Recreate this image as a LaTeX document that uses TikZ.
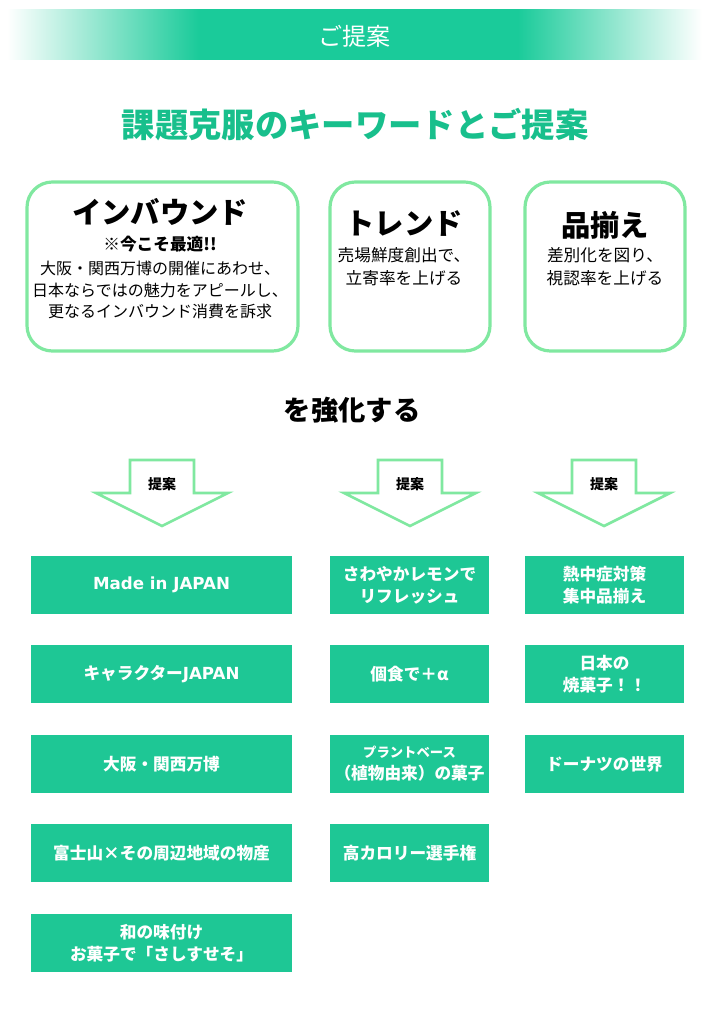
\documentclass[tikz,border=0pt]{standalone}
\usepackage{fontspec}
\setmainfont{Noto Sans CJK JP}
\newfontfamily\latinb{DejaVu Sans}
\definecolor{hgreen}{HTML}{1ACB9A}
\definecolor{tgreen}{HTML}{18BF8C}
\definecolor{bgreen}{HTML}{1EC795}
\definecolor{lgreen}{HTML}{80E8A0}
\pgfdeclarehorizontalshading{hdrshade}{100bp}{color(0bp)=(white); color(25.5bp)=(white); color(39bp)=(hgreen); color(61.5bp)=(hgreen); color(74.5bp)=(white); color(100bp)=(white)}
\begin{document}
\begin{tikzpicture}[x=0.75pt,y=-0.75pt,
  keybox/.style={draw=lgreen,line width=2.4pt,rounded corners=19pt},
  propbox/.style={fill=bgreen,draw=none},
  proptext/.style={text=white,font=\bfseries\fontsize{12.5}{16.5}\selectfont,align=center},
  keytitle/.style={font=\bfseries\fontsize{22}{26}\selectfont},
  keytext/.style={font=\fontsize{12.5}{16.5}\selectfont,align=center},
  arrowshape/.style={draw=lgreen,line width=2pt,fill=white,line join=miter},
  arrowtext/.style={font=\bfseries\fontsize{10.5}{12}\selectfont}]
\useasboundingbox (0,0) rectangle (709,1024);
\fill[white] (0,0) rectangle (709,1024);
% header bar
\shade[shading=hdrshade] (0,10) rectangle (709,60);
\node[text=white,font=\fontsize{18}{20}\selectfont] (hdr) at (354,36) {ご提案};
% title
\node[text=tgreen,font=\bfseries\fontsize{25}{28}\selectfont] (title) at (355,125) {課題克服のキーワードとご提案};
% keyword boxes
\draw[keybox] (27,182) rectangle (298,351);
\draw[keybox] (330,182) rectangle (490,351);
\draw[keybox] (525,182) rectangle (685,351);
\node[keytitle] (k1t) at (160,212) {インバウンド};
\node[font=\bfseries\fontsize{12.5}{15}\selectfont] (k1s) at (160,244) {※今こそ最適!!};
\node[keytext,font=\fontsize{12}{16.3}\selectfont] (k1b) at (160,290) {大阪・関西万博の開催にあわせ、\\日本ならではの魅力をアピールし、\\更なるインバウンド消費を訴求};
\node[keytitle] (k2t) at (404,224) {トレンド};
\node[keytext,font=\fontsize{12.5}{17}\selectfont] (k2b) at (404,267) {売場鮮度創出で、\\立寄率を上げる};
\node[keytitle] (k3t) at (605,225) {品揃え};
\node[keytext,font=\fontsize{12.5}{17}\selectfont] (k3b) at (605,267) {差別化を図り、\\視認率を上げる};
% strengthen
\node[font=\bfseries\fontsize{20.5}{24}\selectfont] (kyouka) at (352,410) {を強化する};
% arrows
\foreach \cx/\nm in {162/a1,410/a2,604/a3}{
  \draw[arrowshape] (\cx-32,460) -- (\cx+32,460) -- (\cx+32,493) -- (\cx+66,493)
     -- (\cx,526) -- (\cx-66,493) -- (\cx-32,493) -- cycle;
  \node[arrowtext] (\nm) at (\cx,484) {提案};
}
% column 1
\foreach \y in {556,645,735,824,914}{
  \fill[propbox] (31,\y) rectangle (292,\y+58);
}
\node[proptext] (t1a) at (161.5,585) {\latinb Made in JAPAN};
\node[proptext] (t1b) at (161.5,674) {キャラクター{\latinb JAPAN}};
\node[proptext] (t1c) at (161.5,764) {大阪・関西万博};
\node[proptext] (t1d) at (161.5,853) {富士山×その周辺地域の物産};
\node[proptext] (t1e) at (161.5,943) {和の味付け\\お菓子で「さしすせそ」};
% column 2
\foreach \y in {556,645,735,824}{
  \fill[propbox] (330,\y) rectangle (489,\y+58);
}
\node[proptext] (t2a) at (409.5,585) {さわやかレモンで\\リフレッシュ};
\node[proptext] (t2b) at (409.5,674) {個食で＋α};
\node[proptext] (t2c) at (409.5,764) {{\fontsize{10}{13}\selectfont プラントベース}\\（植物由来）の菓子};
\node[proptext] (t2d) at (409.5,853) {高カロリー選手権};
% column 3
\foreach \y in {556,645,735}{
  \fill[propbox] (525,\y) rectangle (684,\y+58);
}
\node[proptext] (t3a) at (604.5,585) {熱中症対策\\集中品揃え};
\node[proptext] (t3b) at (604.5,674) {日本の\\焼菓子！！};
\node[proptext] (t3c) at (604.5,764) {ドーナツの世界};
\end{tikzpicture}
\end{document}
